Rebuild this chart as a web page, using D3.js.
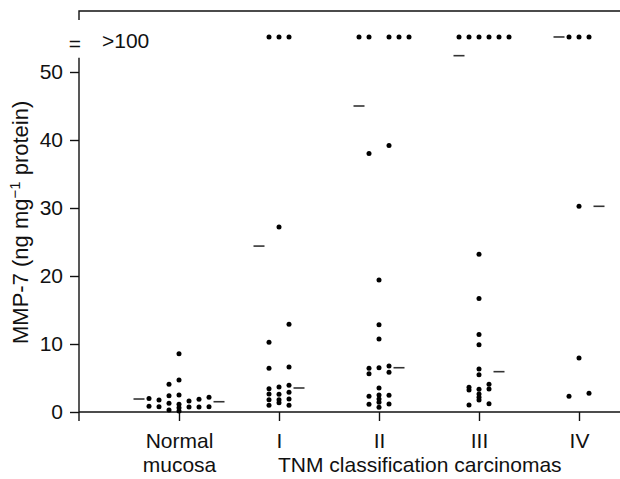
<!DOCTYPE html>
<html lang="en">
    <head>
        <meta charset="utf-8">
        <title>MMP-7 by TNM stage</title>
        <script src="https://d3js.org/d3.v7.min.js"></script>
        <style type="text/css">
            body { margin: 0; background: #fff; }
            svg text { font-family: "Liberation Sans", Arial, Helvetica, sans-serif; font-size: 21px; fill: #111; }
        </style>
    </head>
    <body>
        <script type="text/javascript">

            const svgW = 620;
            const svgH = 479;

            // values above 100 are drawn on the row above the break
            const HIGH = Infinity;

            const groups = ["Normal\nmucosa", "I", "II", "III", "IV"];
            const yTicks = [0, 10, 20, 30, 40, 50];

            // [column slot, value] - slot is the swarm column inside a group
            const normalPts = [
                [-3, 2.0], [-3, 0.84],
                [-2, 1.76], [-2, 0.78],
                [-1, 4.07], [-1, 2.4], [-1, 1.28], [-1, 0.29],
                [0, 8.55], [0, 4.7], [0, 2.5], [0, 1.13], [0, 0.63], [0, 0.15],
                [1, 1.62], [1, 0.74],
                [2, 1.87], [2, 0.74],
                [3, 2.16], [3, 0.78]
            ];
            const stage1Pts = [
                [-1, 10.25], [-1, 6.43], [-1, 3.43], [-1, 2.65], [-1, 1.81], [-1, 0.99],
                [0, 27.2], [0, 3.68], [0, 2.6], [0, 1.81], [0, 1.37],
                [1, 12.9], [1, 6.62], [1, 3.93], [1, 2.9], [1, 1.91], [1, 0.99],
                [-1, HIGH], [0, HIGH], [1, HIGH]
            ];
            const stage2Pts = [
                [-1, 38.0], [-1, 6.43], [-1, 5.63], [-1, 2.31], [-1, 1.13],
                [0, 19.4], [0, 12.84], [0, 10.74], [0, 6.51], [0, 3.53], [0, 2.5], [0, 1.91], [0, 1.43], [0, 0.69],
                [1, 39.2], [1, 6.76], [1, 5.84], [1, 2.46], [1, 1.18],
                [-2, HIGH], [-1, HIGH], [1, HIGH], [2, HIGH], [3, HIGH]
            ];
            const stage3Pts = [
                [-1, 3.63], [-1, 3.24], [-1, 1.03],
                [0, 23.2], [0, 16.7], [0, 11.4], [0, 9.9], [0, 6.32], [0, 5.49], [0, 3.34], [0, 2.65], [0, 2.16], [0, 1.76],
                [1, 4.07], [1, 3.38], [1, 1.22],
                [-2, HIGH], [-1, HIGH], [0, HIGH], [1, HIGH], [2, HIGH], [3, HIGH]
            ];
            const stage4Pts = [
                [-1, 2.31],
                [0, 30.25], [0, 7.94],
                [1, 2.75],
                [-1, HIGH], [0, HIGH], [1, HIGH]
            ];
            const groupPts = [normalPts, stage1Pts, stage2Pts, stage3Pts, stage4Pts];

            const means = [1.91, 24.4, 45.0, 52.4, HIGH];
            const medians = [1.51, 3.53, 6.51, 5.93, 30.25];

            const breakRow = 55.15;   // where the ">100" row sits on the value scale
            const axisTop = 52.1;

            const xScale = d3.scalePoint()
                             .domain(groups)
                             .range([79, 679])
                             .padding(1);

            const xSlot = d3.scaleLinear()
                            .domain([-1, 1])
                            .range([-10, 10]);

            const yScale = d3.scaleLinear()
                             .domain([0, 50])
                             .range([412, 72]);

            const yPos = v => v > 100 ? yScale(breakRow) : yScale(v);

            const svg = d3.select("body")
                    .append("svg")
                    .attr("width", svgW)
                    .attr("height", svgH);

            // frame at the top, above the break
            svg.append("path")
               .attr("d", "M79,20V11H" + svgW)
               .attr("fill", "none")
               .attr("stroke", "#111")
               .attr("stroke-width", 1.4);

            const leftAxis = d3.axisLeft()
                             .scale(yScale)
                             .tickValues(yTicks)
                             .tickSize(9)
                             .tickSizeOuter(0)
                             .tickPadding(7);

            const gy = svg.append("g")
                 .attr("transform", "translate(79,0)")
                 .call(leftAxis);
            gy.select(".domain").remove();
            gy.selectAll("line").attr("stroke", "#111").attr("stroke-width", 1.4);
            gy.selectAll("text").style("font-size", "21px").attr("fill", "#111");

            svg.append("line")
               .attr("x1", 79).attr("x2", 79)
               .attr("y1", yScale(axisTop)).attr("y2", yScale(0) + 9)
               .attr("stroke", "#111")
               .attr("stroke-width", 1.4);

            const bottomAxis = d3.axisBottom()
                                .scale(xScale)
                                .tickSize(9)
                                .tickSizeOuter(0)
                                .tickPadding(12);

            const gx = svg.append("g")
                .attr("transform", "translate(0," + yScale(0) + ")")
                .call(bottomAxis);
            gx.select(".domain").attr("d", "M79,0H" + svgW).attr("stroke", "#111").attr("stroke-width", 1.4);
            gx.selectAll("line").attr("stroke", "#111").attr("stroke-width", 1.4);
            gx.selectAll(".tick text")
              .style("font-size", "21px")
              .attr("fill", "#111")
              .each(function(d) {
                  const t = d3.select(this).text("");
                  d.split("\n").forEach((s, i) => {
                      t.append("tspan").attr("x", 0).attr("dy", i === 0 ? "0.71em" : "1.15em").text(s);
                  });
              })
              .attr("dy", null);

            // break marker and label
            svg.append("text")
               .attr("x", 75).attr("y", yScale(breakRow) + 14)
               .attr("text-anchor", "middle")
               .text("=");
            svg.append("text")
               .attr("x", 102).attr("y", yScale(breakRow) + 11)
               .text(">100");

            // axis titles
            const yl = svg.append("text")
               .attr("transform", "translate(28,344) rotate(-90)")
               .attr("text-anchor", "start")
               .style("font-size", "22px");
            yl.append("tspan").text("MMP-7 (ng mg");
            yl.append("tspan").attr("dy", -8).style("font-size", "15px").text("\u22121");
            yl.append("tspan").attr("dy", 8).text(" protein)");

            svg.append("text")
               .attr("x", 278).attr("y", 472)
               .text("TNM classification carcinomas");

            // dots
            groups.forEach((g, i) => {
                const cx = xScale(g);
                const pts = groupPts[i];
                svg.append("g")
                   .selectAll("circle")
                   .data(pts)
                   .enter()
                   .append("circle")
                   .attr("cx", d => cx + xSlot(d[0]))
                   .attr("cy", d => yPos(d[1]))
                   .attr("r", 2.5)
                   .attr("fill", "#000");

                const spread = xSlot(d3.max(pts.filter(d => isFinite(d[1])), d => Math.abs(d[0])));
                // mean on the left, median on the right
                svg.append("line")
                   .attr("x1", cx - spread - 15.5).attr("x2", cx - spread - 4.5)
                   .attr("y1", yPos(means[i])).attr("y2", yPos(means[i]))
                   .attr("stroke", "#333").attr("stroke-width", 1.6);
                svg.append("line")
                   .attr("x1", cx + spread + 4.5).attr("x2", cx + spread + 15.5)
                   .attr("y1", yPos(medians[i])).attr("y2", yPos(medians[i]))
                   .attr("stroke", "#333").attr("stroke-width", 1.6);
            });

        </script>
    </body>
</html>
